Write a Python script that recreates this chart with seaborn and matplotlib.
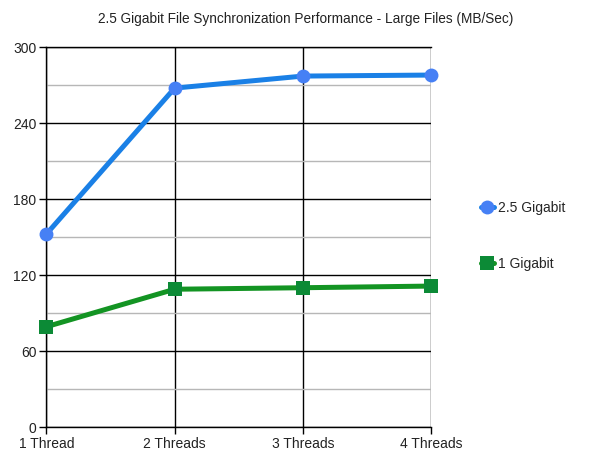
import matplotlib
matplotlib.use("Agg")
import matplotlib.pyplot as plt
import seaborn as sns
import pandas as pd
from matplotlib.lines import Line2D
from matplotlib.ticker import MultipleLocator

categories = ["1 Thread", "2 Threads", "3 Threads", "4 Threads"]
gig25 = [152.5, 267.8, 277.3, 278.1]
gig1 = [79.4, 109.0, 110.2, 111.5]
series_names = ["2.5 Gigabit", "1 Gigabit"]
title = "2.5 Gigabit File Synchronization Performance - Large Files (MB/Sec)"

sns.set_theme(style="white")
plt.rcParams['font.family'] = ['Liberation Sans', 'DejaVu Sans']

fig = plt.figure(figsize=(6, 4.63), dpi=100)
ax = fig.add_axes([0.0772, 0.0771, 0.6416, 0.8207])

df = pd.DataFrame({"x": categories * 2,
                   "y": gig25 + gig1,
                   "s": [series_names[0]] * 4 + [series_names[1]] * 4})

line_cols = ["#1a80e6", "#139423"]
mark_cols = ["#4680f5", "#0c8a36"]
markers = ["o", "s"]
msizes = [10, 10]

for i, name in enumerate(series_names):
    sub = df[df.s == name]
    sns.lineplot(data=sub, x="x", y="y", ax=ax, color=line_cols[i], lw=3.6,
                 marker=markers[i], markersize=msizes[i],
                 markerfacecolor=mark_cols[i], markeredgecolor=mark_cols[i],
                 markeredgewidth=0, zorder=5, legend=False, sort=False,
                 clip_on=False)

ax.set_xlim(0, 3)
ax.set_ylim(0, 300)
ax.yaxis.set_major_locator(MultipleLocator(60))
ax.yaxis.set_minor_locator(MultipleLocator(30))
ax.grid(which="major", axis="both", color="black", lw=1.0)
ax.grid(which="minor", axis="y", color="#b7b7b7", lw=1.0)
ax.set_axisbelow(True)
for sp in ax.spines.values():
    sp.set_color("black")
    sp.set_linewidth(1.0)
ax.spines["right"].set_visible(False)
ax.tick_params(axis="both", which="major", length=5, width=1, color="black",
               labelsize=10, labelcolor="#222222", pad=2, left=True, bottom=True)
ax.tick_params(axis="y", which="minor", length=0)
ax.set_xlabel("")
ax.set_ylabel("")
ax.set_xticks(range(len(categories)))
ax.set_xticklabels(categories)

fig.text(0.51, 0.958, title, ha="center", va="center", fontsize=9.8, color="#222222")

handles = [Line2D([0], [0], color=line_cols[i], lw=3.6, marker=markers[i],
                  markersize=msizes[i], markerfacecolor=mark_cols[i],
                  markeredgecolor=mark_cols[i], markeredgewidth=0)
           for i in range(2)]
fig.legend(handles, series_names, loc="upper left", bbox_to_anchor=(0.802, 0.566),
           frameon=False, fontsize=10, handlelength=0.9, handletextpad=0.3,
           labelspacing=3.0, borderaxespad=0, borderpad=0)

fig.savefig("out.png", dpi=100)
